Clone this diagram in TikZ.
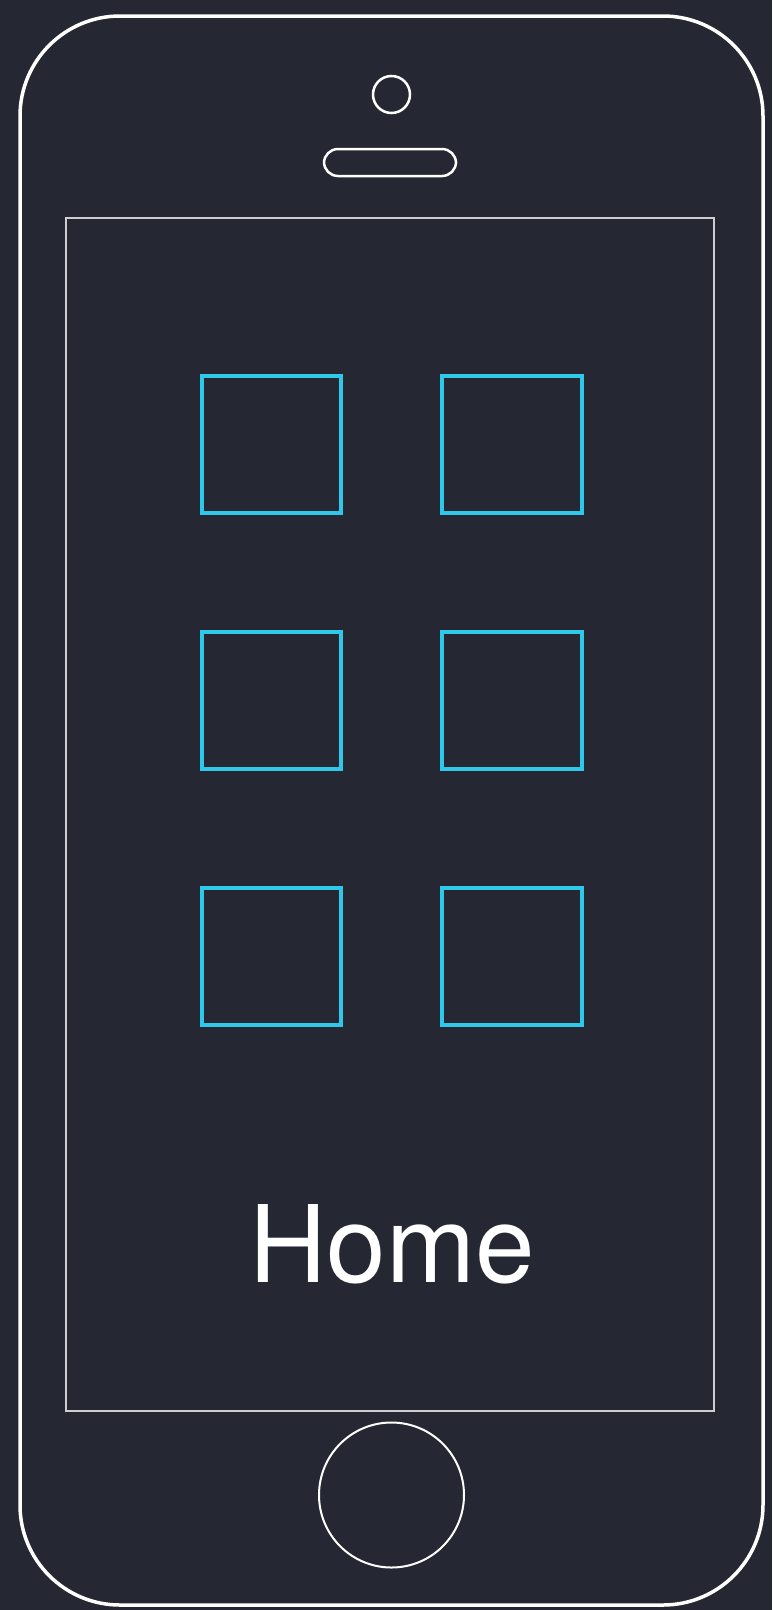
\documentclass[tikz,border=0pt]{standalone}
\usepackage{fontspec}
\setmainfont{TeX Gyre Heros}
\definecolor{bg}{RGB}{37,39,51}
\definecolor{tile}{RGB}{48,200,234}
\definecolor{scr}{RGB}{205,205,210}
\begin{document}
\begin{tikzpicture}[x=1pt,y=-1pt,
  phone/.style={draw=white,line width=3.5pt,rounded corners=100pt},
  screenbox/.style={draw=scr,line width=2pt},
  part/.style={draw=white,line width=2.5pt},
  tilebox/.style={draw=tile,line width=4pt}]
\fill[bg] (0,0) rectangle (772,1610);
\useasboundingbox (0,0) rectangle (772,1610);
\draw[phone] (20,16) rectangle (763,1605);
\draw[screenbox] (65.5,218) rectangle (714,1411);
\node[part,circle,minimum size=37pt,inner sep=0pt] (camera) at (391.5,94.5) {};
\draw[part,rounded corners=14pt] (324,149) rectangle (456,176);
\node[draw=white,line width=2pt,circle,minimum size=145pt,inner sep=0pt] (homebtn) at (391.5,1495) {};
\foreach \r/\y in {1/376,2/632,3/888}{
  \draw[tilebox] (202,\y) rectangle (341,\y+137);
  \draw[tilebox] (442,\y) rectangle (582,\y+137);
}
\node[white,anchor=base,inner sep=0pt,font=\fontsize{107}{107}\selectfont] (title) at (392,1282) {Home};
\end{tikzpicture}
\end{document}
